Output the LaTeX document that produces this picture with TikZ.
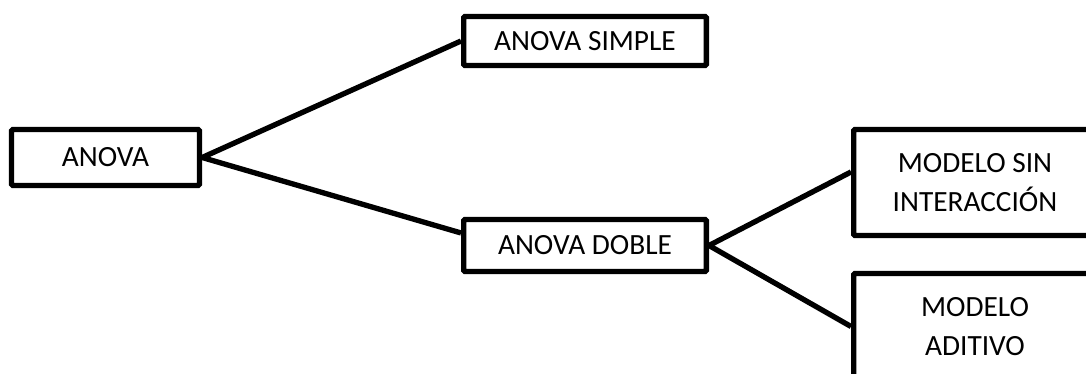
\documentclass[tikz,border=0pt]{standalone}
\usepackage{fontspec}
\setmainfont{Carlito}
\usetikzlibrary{positioning}
\tikzset{
  caja/.style={rectangle, draw=black, line width=4pt, rounded corners=1pt, text centered, align=center, inner sep=0pt, minimum width=182pt, font=\fontsize{22}{29}\selectfont},
  line/.style={draw, line width=4pt},
}
\begin{document}
\begin{tikzpicture}[x=0.75pt,y=-0.75pt]
    \useasboundingbox (0,0) rectangle (1086,374);
    \clip (0,0) rectangle (1086,374);

    \node[caja,minimum width=141pt,minimum height=42pt] (anova) at (105.5,157.5) {ANOVA};
    \node[caja,minimum height=36.75pt] (simple) at (585,41) {ANOVA SIMPLE};
    \node[caja,minimum height=39pt] (doble) at (585,245.5) {ANOVA DOBLE};
    \node[caja,minimum height=79.5pt] (sin) at (975,182.5) {MODELO SIN\\INTERACCIÓN};
    \node[caja,minimum height=79.5pt] (aditivo) at (975,326.5) {MODELO\\ADITIVO};

    \begin{scope} [every path/.style=line]
      \path (anova.east) -- (simple.west);
      \path (anova.east) -- ([yshift=9.4pt]doble.west);
      \path (doble.east) -- ([yshift=7.9pt]sin.west);
      \path (doble.east) -- (aditivo.west);
    \end{scope}
  \end{tikzpicture}
\end{document}
